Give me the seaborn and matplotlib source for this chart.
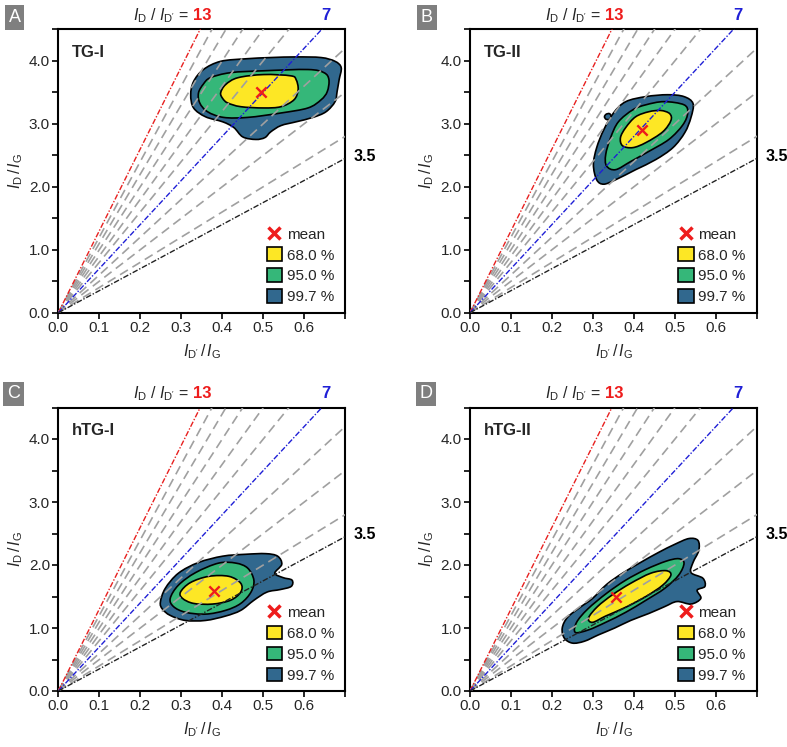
import matplotlib
matplotlib.use("Agg")
import matplotlib.pyplot as plt
import matplotlib.transforms as mtransforms
from matplotlib.patches import Patch, PathPatch
from matplotlib.path import Path
from matplotlib.lines import Line2D
import seaborn as sns
import numpy as np
import pandas as pd

sns.set_style("ticks")
plt.rcParams['font.family'] = ['Liberation Sans', 'DejaVu Sans']
plt.rcParams['mathtext.fontset'] = 'custom'
plt.rcParams['mathtext.rm'] = 'Liberation Sans'
plt.rcParams['mathtext.it'] = 'Liberation Sans:italic'
plt.rcParams['mathtext.bf'] = 'Liberation Sans:bold'

# ---------------- data ----------------
panel_letters = ['A', 'B', 'C', 'D']
panel_names = ['TG-I', 'TG-II', 'hTG-I', 'hTG-II']
ratio_red = 13
ratio_blue = 7
ratio_black = 3.5
ratio_gray = [12, 11, 10, 9, 8, 6, 5, 4]
level_labels = ['68.0 %', '95.0 %', '99.7 %']
level_colors = ['#fde725', '#35b779', '#31688e']
mean_x = [0.495, 0.42, 0.38, 0.355]
mean_y = [3.50, 2.90, 1.58, 1.50]
x_ticks = [0.0, 0.1, 0.2, 0.3, 0.4, 0.5, 0.6, 0.7]
x_ticklabels = ['0.0', '0.1', '0.2', '0.3', '0.4', '0.5', '0.6', '']
y_ticks = [0.0, 1.0, 2.0, 3.0, 4.0]
y_ticklabels = ['0.0', '1.0', '2.0', '3.0', '4.0']
y_minor = [0.5, 1.5, 2.5, 3.5, 4.5]

# contour outlines (x = I_D'/I_G, y = I_D/I_G)
A_997 = [(0.323, 3.46), (0.330, 3.67), (0.354, 3.86), (0.396, 3.99), (0.457, 4.03),
         (0.518, 4.05), (0.580, 4.06), (0.641, 4.05), (0.675, 3.99), (0.690, 3.89),
         (0.685, 3.70), (0.680, 3.51), (0.675, 3.35), (0.653, 3.19), (0.621, 3.10),
         (0.580, 3.03), (0.543, 2.97), (0.518, 2.87), (0.504, 2.78), (0.482, 2.75),
         (0.450, 2.79), (0.428, 2.94), (0.401, 3.03), (0.359, 3.11), (0.330, 3.25)]
A_950 = [(0.342, 3.49), (0.354, 3.63), (0.371, 3.73), (0.420, 3.81), (0.501, 3.84),
         (0.609, 3.86), (0.648, 3.81), (0.660, 3.70), (0.656, 3.51), (0.641, 3.38),
         (0.609, 3.25), (0.543, 3.17), (0.462, 3.10), (0.403, 3.10), (0.364, 3.19),
         (0.345, 3.33)]
A_680 = [(0.396, 3.49), (0.408, 3.62), (0.438, 3.73), (0.501, 3.78), (0.567, 3.76),
         (0.580, 3.70), (0.585, 3.54), (0.575, 3.38), (0.543, 3.27), (0.501, 3.25),
         (0.445, 3.27), (0.413, 3.33), (0.401, 3.40)]

B_997 = [(0.380, 3.35), (0.429, 3.43), (0.482, 3.46), (0.522, 3.43), (0.544, 3.32),
         (0.539, 3.10), (0.524, 2.86), (0.495, 2.62), (0.453, 2.43), (0.404, 2.27),
         (0.355, 2.11), (0.326, 2.04), (0.309, 2.11), (0.301, 2.35), (0.309, 2.62),
         (0.326, 2.90), (0.350, 3.17)]
B_997_dot = [(0.328, 3.11), (0.332, 3.15), (0.340, 3.16), (0.344, 3.12), (0.340, 3.07),
             (0.332, 3.07)]
B_950 = [(0.362, 3.03), (0.397, 3.22), (0.429, 3.30), (0.473, 3.35), (0.522, 3.30),
         (0.531, 3.17), (0.519, 2.98), (0.485, 2.75), (0.436, 2.56), (0.392, 2.40),
         (0.355, 2.27), (0.333, 2.33), (0.331, 2.51), (0.343, 2.78)]
B_680 = [(0.380, 2.94), (0.404, 3.11), (0.436, 3.19), (0.465, 3.21), (0.487, 3.16),
         (0.490, 3.05), (0.470, 2.87), (0.429, 2.70), (0.397, 2.62), (0.372, 2.65),
         (0.367, 2.78)]

C_997 = [(0.249, 1.41), (0.261, 1.63), (0.293, 1.87), (0.342, 2.04), (0.401, 2.14),
         (0.457, 2.17), (0.506, 2.18), (0.535, 2.14), (0.545, 2.01), (0.528, 1.87),
         (0.548, 1.80), (0.570, 1.76), (0.568, 1.66), (0.541, 1.61), (0.509, 1.57),
         (0.477, 1.44), (0.445, 1.28), (0.408, 1.19), (0.359, 1.12), (0.310, 1.12),
         (0.273, 1.20), (0.254, 1.30)]
C_950 = [(0.273, 1.47), (0.293, 1.68), (0.335, 1.88), (0.391, 2.03), (0.433, 2.03),
         (0.462, 1.95), (0.477, 1.76), (0.470, 1.57), (0.445, 1.39), (0.408, 1.28),
         (0.359, 1.22), (0.310, 1.25), (0.281, 1.34)]
C_680 = [(0.298, 1.57), (0.322, 1.72), (0.367, 1.82), (0.416, 1.82), (0.445, 1.71),
         (0.445, 1.57), (0.420, 1.44), (0.376, 1.38), (0.330, 1.39), (0.303, 1.47)]

D_997 = [(0.250, 0.76), (0.230, 0.84), (0.225, 1.00), (0.238, 1.17), (0.269, 1.33),
         (0.299, 1.47), (0.333, 1.69), (0.372, 1.87), (0.416, 2.04), (0.460, 2.20),
         (0.500, 2.33), (0.534, 2.42), (0.556, 2.39), (0.558, 2.23), (0.544, 2.04),
         (0.539, 1.88), (0.568, 1.79), (0.573, 1.66), (0.554, 1.60), (0.563, 1.47),
         (0.539, 1.38), (0.505, 1.42), (0.475, 1.34), (0.436, 1.23), (0.392, 1.12),
         (0.353, 1.00), (0.313, 0.89), (0.279, 0.79)]
D_950 = [(0.257, 0.93), (0.260, 1.09), (0.287, 1.30), (0.333, 1.55), (0.380, 1.76),
         (0.429, 1.93), (0.478, 2.06), (0.509, 2.10), (0.522, 2.03), (0.509, 1.84),
         (0.475, 1.63), (0.429, 1.44), (0.380, 1.25), (0.331, 1.09), (0.289, 0.97)]
D_680 = [(0.289, 1.16), (0.311, 1.34), (0.348, 1.53), (0.392, 1.71), (0.441, 1.87),
         (0.478, 1.91), (0.490, 1.84), (0.470, 1.68), (0.429, 1.50), (0.380, 1.33),
         (0.331, 1.19), (0.299, 1.09)]

contours = [
    [[A_997], [A_950], [A_680]],
    [[B_997, B_997_dot], [B_950], [B_680]],
    [[C_997], [C_950], [C_680]],
    [[D_997], [D_950], [D_680]],
]


def smooth_closed_path(poly):
    """Closed path through the read vertices, drawn with cubic Bezier segments."""
    P = np.asarray(poly, dtype=float)
    n = len(P)
    verts = [P[0]]
    codes = [Path.MOVETO]
    for k in range(n):
        p0, p1, p2, p3 = P[k - 1], P[k], P[(k + 1) % n], P[(k + 2) % n]
        c1 = p1 + (p2 - p0) / 6.0
        c2 = p2 - (p3 - p1) / 6.0
        verts += [c1, c2, p2]
        codes += [Path.CURVE4] * 3
    codes[-1] = Path.CURVE4
    verts.append(P[0])
    codes.append(Path.CLOSEPOLY)
    return Path(verts, codes)


# ---------------- layout ----------------
fig = plt.figure(figsize=(7.87, 7.47), dpi=100)
W, H = 787.0, 747.0
ax_w = 287.0 / W
ax_h = 283.5 / H
lefts = [58.3 / W, 470.0 / W, 58.3 / W, 470.0 / W]
bottoms = [(H - 312.7) / H, (H - 312.7) / H, (H - 691.0) / H, (H - 691.0) / H]
letter_pos = [(14.5, 17.5), (427.0, 17.5), (13.5, 394.0), (426.0, 394.0)]

xlim = (0.0, 0.7)
ylim = (0.0, 4.5)
line_x = [0.0, 0.75]

for i in range(4):
    ax = fig.add_axes([lefts[i], bottoms[i], ax_w, ax_h])
    ax.set_xlim(*xlim)
    ax.set_ylim(*ylim)

    # contour regions (99.7 %, 95 %, 68 %)
    for lev_polys, col in zip(contours[i], level_colors[::-1]):
        for poly in lev_polys:
            ax.add_patch(PathPatch(smooth_closed_path(poly), facecolor=col,
                                   edgecolor='black', linewidth=1.2, zorder=2))

    # ratio reference lines through the origin
    for s in ratio_gray:
        ax.plot(line_x, [s * v for v in line_x], color='#a0a0a0', lw=1.2,
                linestyle=(0, (5.5, 3.2)), zorder=3)
    ax.plot(line_x, [ratio_red * v for v in line_x], color='#e8201f', lw=1.0,
            linestyle=(0, (4, 1.3, 1, 1.3)), zorder=3)
    ax.plot(line_x, [ratio_blue * v for v in line_x], color='#1f1fd6', lw=1.0,
            linestyle=(0, (4, 1.3, 1, 1.3)), zorder=3)
    ax.plot(line_x, [ratio_black * v for v in line_x], color='#222222', lw=1.0,
            linestyle=(0, (4, 1.3, 1, 1.3)), zorder=3)

    # mean
    dfm = pd.DataFrame({'x': [mean_x[i]], 'y': [mean_y[i]]})
    sns.scatterplot(data=dfm, x='x', y='y', ax=ax, marker='x', s=55, color='#ee1c1c',
                    linewidth=1.7, zorder=5, legend=False)

    # axes cosmetics
    ax.set_xticks(x_ticks)
    ax.set_xticklabels(x_ticklabels)
    ax.set_yticks(y_ticks)
    ax.set_yticklabels(y_ticklabels)
    ax.set_yticks(y_minor, minor=True)
    ax.tick_params(axis='both', which='both', direction='out', length=4, width=1.2,
                   labelsize=11, color='black', pad=2)
    for sp in ax.spines.values():
        sp.set_visible(True)
        sp.set_linewidth(1.5)
        sp.set_color('black')
    ax.set_xlabel(r"$I_{\mathrm{D'}}\,/\,I_{\mathrm{G}}$", fontsize=11.5, labelpad=5)
    ax.set_ylabel(r"$I_{\mathrm{D}}\,/\,I_{\mathrm{G}}$", fontsize=11.5, labelpad=3)

    # labels
    ax.text(0.047, 0.918, panel_names[i], transform=ax.transAxes, fontsize=12,
            fontweight='bold', ha='left', va='center', zorder=6)
    trans = mtransforms.blended_transform_factory(ax.transData, ax.transAxes)
    ax.text(0.322, 1.032, r"$I_{\mathrm{D}}$ / $I_{\mathrm{D'}}$ = ", transform=trans,
            ha='right', va='baseline', fontsize=11.5, clip_on=False)
    ax.text(4.5 / ratio_red + 0.006, 1.032, '13', transform=trans, color='#ee1c1c',
            fontweight='bold', ha='center', va='baseline', fontsize=12, clip_on=False)
    ax.text(4.5 / ratio_blue + 0.01, 1.032, '7', transform=trans, color='#1f1fd6',
            fontweight='bold', ha='center', va='baseline', fontsize=12, clip_on=False)
    ax.text(0.72, 0.7 * ratio_black + 0.03, '3.5', color='black', fontweight='bold',
            ha='left', va='center', fontsize=11.5, clip_on=False)

    handles = [Line2D([], [], marker='x', color='#ee1c1c', linestyle='none',
                      markersize=8, markeredgewidth=2.5)]
    handles += [Patch(facecolor=c, edgecolor='black', linewidth=1.2) for c in level_colors]
    ax.legend(handles, ['mean'] + level_labels, loc='lower right',
              bbox_to_anchor=(0.99, 0.0), frameon=False, fontsize=11,
              handlelength=1.0, handleheight=1.0, handletextpad=0.3,
              labelspacing=0.38, borderpad=0.35, borderaxespad=0.2)

    lx, ly = letter_pos[i]
    fig.text(lx / W, 1 - ly / H, panel_letters[i], color='white', fontsize=13,
             ha='center', va='center',
             bbox=dict(boxstyle='square,pad=0.2', facecolor='#7f7f7f', edgecolor='none'))

fig.savefig('out.png', dpi=100)
